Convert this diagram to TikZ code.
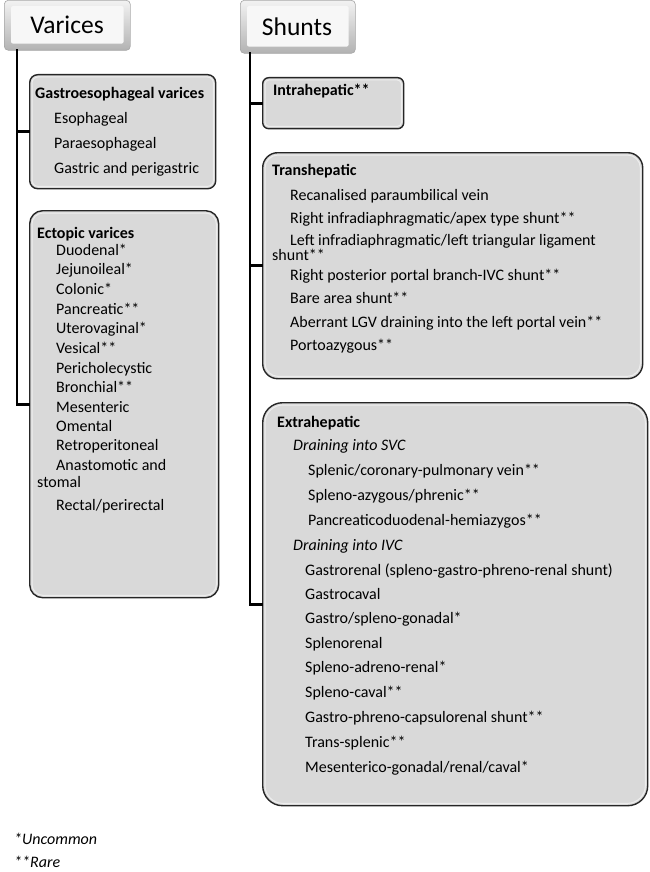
\documentclass[tikz,border=0pt]{standalone}
\usepackage{fontspec}
\setmainfont{Carlito}
\usetikzlibrary{calc}
\begin{document}
\begin{tikzpicture}[x=1pt,y=-1pt,
  tree/.style={line width=2.8pt, line cap=rect},
  hdr/.style={draw=gray!70, line width=0.6pt, rounded corners=4pt, top color=gray!10, bottom color=gray!60, inner sep=0pt, anchor=north west},
  hdrin/.style={fill=gray!6, draw=none},
  bx/.style={draw=black!85, line width=1.4pt, fill=black!15, inner sep=0pt, anchor=north west},
  bevel/.style={draw=white, line width=1pt, opacity=0.55},
  ttl/.style={anchor=mid west, inner sep=0pt, font=\fontsize{16}{19}\selectfont\bfseries},
  itm/.style={anchor=mid west, inner sep=0pt, font=\fontsize{16}{19}\selectfont},
  itl/.style={anchor=mid west, inner sep=0pt, font=\fontsize{16}{19}\selectfont\itshape},
  hd/.style={inner sep=0pt, font=\fontsize{25.5}{30}\selectfont}]
\useasboundingbox (0,0) rectangle (649,872);

% header boxes
\node[hdr, minimum width=126pt, minimum height=50pt] (hv) at (4,0) {};
\fill[hdrin, rounded corners=2pt] ($(hv.north west)+(7,6)$) rectangle ($(hv.south east)+(-7,-7)$);
\node[hd] (hvt) at (67,25) {Varices};
\node[hdr, minimum width=115pt, minimum height=53pt] (hs) at (240,0) {};
\fill[hdrin, rounded corners=2pt] ($(hs.north west)+(7,6)$) rectangle ($(hs.south east)+(-7,-7)$);
\node[hd] (hst) at (297,27) {Shunts};

% content boxes
\node[bx, rounded corners=8pt, minimum width=186pt, minimum height=114pt] (gast) at (29,74) {};
\draw[bevel, rounded corners=6pt] ($(gast.north west)+(3,3)$) rectangle ($(gast.south east)+(-3,-3)$);
\node[bx, rounded corners=13pt, minimum width=189pt, minimum height=387pt] (ect) at (29,210) {};
\draw[bevel, rounded corners=11pt] ($(ect.north west)+(3,3)$) rectangle ($(ect.south east)+(-3,-3)$);
\node[bx, rounded corners=6pt, minimum width=141pt, minimum height=51pt] (intra) at (262,77) {};
\draw[bevel, rounded corners=4pt] ($(intra.north west)+(3,3)$) rectangle ($(intra.south east)+(-3,-3)$);
\node[bx, rounded corners=15pt, minimum width=380pt, minimum height=226pt] (trans) at (262,152) {};
\draw[bevel, rounded corners=13pt] ($(trans.north west)+(3,3)$) rectangle ($(trans.south east)+(-3,-3)$);
\node[bx, rounded corners=20pt, minimum width=385pt, minimum height=403pt] (extra) at (262,402) {};
\draw[bevel, rounded corners=18pt] ($(extra.north west)+(3,3)$) rectangle ($(extra.south east)+(-3,-3)$);

% tree connectors
\coordinate (vtop) at ($(hv.south west)+(13,0)$);
\draw[tree] (vtop) |- (ect.west);
\draw[tree] (vtop |- gast.west) -- (gast.west);
\coordinate (stop) at ($(hs.south west)+(10,0)$);
\draw[tree] (stop) |- (extra.west);
\draw[tree] (stop |- intra.west) -- (intra.west);
\draw[tree] (stop |- trans.west) -- (trans.west);

% gastroesophageal
\node[ttl] (g0) at (35,96) {Gastroesophageal varices};
\node[itm] (g1) at (54,121) {Esophageal};
\node[itm] (g2) at (54,146) {Paraesophageal};
\node[itm] (g3) at (54,171) {Gastric and perigastric};

% ectopic
\node[ttl] (e0) at (37,236) {Ectopic varices};
\node[itm] (e1) at (56,253) {Duodenal*};
\node[itm] (e2) at (56,272) {Jejunoileal*};
\node[itm] (e3) at (56,292) {Colonic*};
\node[itm] (e4) at (56,312) {Pancreatic**};
\node[itm] (e5) at (56,331) {Uterovaginal*};
\node[itm] (e6) at (56,351) {Vesical**};
\node[itm] (e7) at (56,371) {Pericholecystic};
\node[itm] (e8) at (56,390) {Bronchial**};
\node[itm] (e9) at (56,410) {Mesenteric};
\node[itm] (e10) at (56,429) {Omental};
\node[itm] (e11) at (56,448) {Retroperitoneal};
\node[itm] (e12) at (56,468) {Anastomotic and};
\node[itm] (e13) at (37,485) {stomal};
\node[itm] (e14) at (56,508) {Rectal/perirectal};

% intrahepatic
\node[ttl] (i0) at (273,93) {Intrahepatic**};

% transhepatic
\node[ttl] (t0) at (272,173) {Transhepatic};
\node[itm] (t1) at (290,198) {Recanalised paraumbilical vein};
\node[itm] (t2) at (290,221) {Right infradiaphragmatic/apex type shunt**};
\node[itm] (t3) at (290,243) {Left infradiaphragmatic/left triangular ligament};
\node[itm] (t4) at (272,258) {shunt**};
\node[itm] (t5) at (290,278) {Right posterior portal branch-IVC shunt**};
\node[itm] (t6) at (290,301) {Bare area shunt**};
\node[itm] (t7) at (290,325) {Aberrant LGV draining into the left portal vein**};
\node[itm] (t8) at (290,348) {Portoazygous**};

% extrahepatic
\node[ttl] (x0) at (277,425) {Extrahepatic};
\node[itl] (x1) at (293,448) {Draining into SVC};
\node[itm] (x2) at (308,473) {Splenic/coronary-pulmonary vein**};
\node[itm] (x3) at (308,498) {Spleno-azygous/phrenic**};
\node[itm] (x4) at (308,523) {Pancreaticoduodenal-hemiazygos**};
\node[itl] (x5) at (293,548) {Draining into IVC};
\node[itm] (x6) at (305,573) {Gastrorenal (spleno-gastro-phreno-renal shunt)};
\node[itm] (x7) at (305,597) {Gastrocaval};
\node[itm] (x8) at (305,621) {Gastro/spleno-gonadal*};
\node[itm] (x9) at (305,646) {Splenorenal};
\node[itm] (x10) at (305,670) {Spleno-adreno-renal*};
\node[itm] (x11) at (305,695) {Spleno-caval**};
\node[itm] (x12) at (305,720) {Gastro-phreno-capsulorenal shunt**};
\node[itm] (x13) at (305,745) {Trans-splenic**};
\node[itm] (x14) at (305,770) {Mesenterico-gonadal/renal/caval*};

% footnotes
\node[itl] (f1) at (14,842) {*Uncommon};
\node[itl] (f2) at (14,865) {**Rare};
\end{tikzpicture}
\end{document}
